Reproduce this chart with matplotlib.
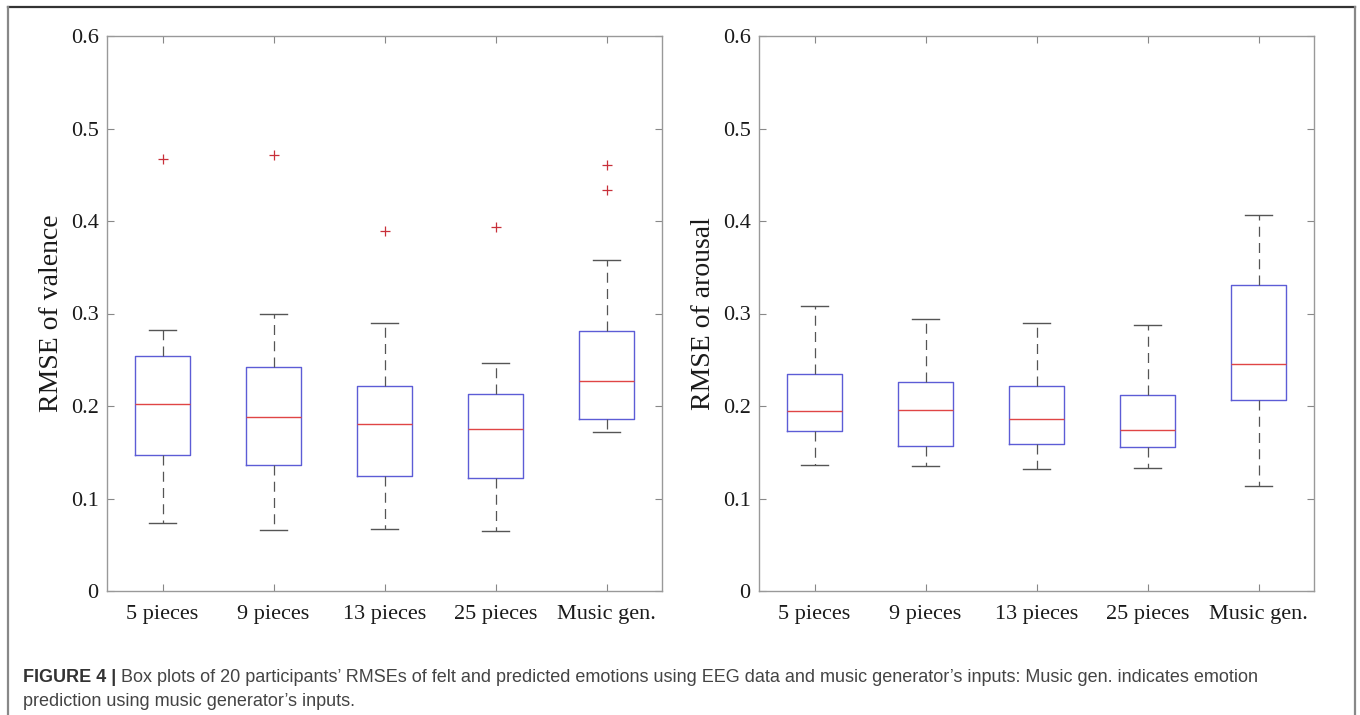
import matplotlib.pyplot as plt
from matplotlib.lines import Line2D

categories = ["5 pieces", "9 pieces", "13 pieces", "25 pieces", "Music gen."]

# valence (left panel)
val_whislo = [0.074, 0.066, 0.067, 0.065, 0.172]
val_q1 = [0.147, 0.136, 0.124, 0.122, 0.186]
val_med = [0.202, 0.188, 0.181, 0.175, 0.227]
val_q3 = [0.254, 0.242, 0.222, 0.213, 0.281]
val_whishi = [0.282, 0.300, 0.290, 0.246, 0.358]
val_fliers = [[0.467], [0.471], [0.389], [0.393], [0.461, 0.434]]

# arousal (right panel)
aro_whislo = [0.136, 0.135, 0.132, 0.133, 0.113]
aro_q1 = [0.173, 0.157, 0.159, 0.156, 0.206]
aro_med = [0.195, 0.196, 0.186, 0.174, 0.245]
aro_q3 = [0.235, 0.226, 0.222, 0.212, 0.331]
aro_whishi = [0.308, 0.294, 0.290, 0.288, 0.406]
aro_fliers = [[], [], [], [], []]

yticks = [0, 0.1, 0.2, 0.3, 0.4, 0.5, 0.6]
ytick_labels = ["0", "0.1", "0.2", "0.3", "0.4", "0.5", "0.6"]

caption_bold = "FIGURE 4 |"
caption_rest = (" Box plots of 20 participants\u2019 RMSEs of felt and predicted emotions using EEG data "
                "and music generator\u2019s inputs: Music gen. indicates emotion")
caption_line2 = "prediction using music generator\u2019s inputs."

serif = ["Liberation Serif", "DejaVu Serif"]
sans = ["Liberation Sans", "DejaVu Sans"]


def make_stats(lo, q1, med, q3, hi, fl):
    stats = []
    for i in range(len(med)):
        stats.append({"whislo": lo[i], "q1": q1[i], "med": med[i], "q3": q3[i],
                      "whishi": hi[i], "fliers": fl[i]})
    return stats


def draw_panel(ax, stats, ylabel):
    ax.bxp(stats, positions=range(1, len(stats) + 1), widths=0.5, capwidths=0.25,
           boxprops=dict(color="#5c5cd6", linewidth=1.0),
           medianprops=dict(color="#e04545", linewidth=1.0),
           whiskerprops=dict(color="#555555", linewidth=0.9, linestyle=(0, (8, 5))),
           capprops=dict(color="#555555", linewidth=1.0),
           flierprops=dict(marker="+", markeredgecolor="#c8303a", markersize=7,
                           markeredgewidth=0.9, linestyle="none"))
    ax.set_xlim(0.5, len(stats) + 0.5)
    ax.set_ylim(0, 0.6)
    ax.set_yticks(yticks)
    ax.set_yticklabels(ytick_labels, fontfamily=serif, fontsize=16, color="#1a1a1a")
    ax.set_xticks(range(1, len(stats) + 1))
    ax.set_xticklabels(categories, fontfamily=serif, fontsize=16, color="#1a1a1a")
    ax.tick_params(direction="in", length=5, width=0.8, color="#888888",
                   top=True, right=True)
    ax.tick_params(axis="x", pad=10)
    ax.tick_params(axis="y", pad=6)
    for s in ax.spines.values():
        s.set_color("#999999")
        s.set_linewidth(1.0)
    ax.set_ylabel(ylabel, fontfamily=serif, fontsize=20, color="#1a1a1a", labelpad=5)


fig = plt.figure(figsize=(13.6, 7.15), dpi=100)
W, H = 1360, 715

ax1 = fig.add_axes([107 / W, 1 - 591 / H, 555 / W, 555 / H])
ax2 = fig.add_axes([759 / W, 1 - 591 / H, 555 / W, 555 / H])

draw_panel(ax1, make_stats(val_whislo, val_q1, val_med, val_q3, val_whishi, val_fliers),
           "RMSE of valence")
draw_panel(ax2, make_stats(aro_whislo, aro_q1, aro_med, aro_q3, aro_whishi, aro_fliers),
           "RMSE of arousal")

# outer frame of the figure panel
fig.add_artist(Line2D([8 / W, 1355 / W], [1 - 7 / H, 1 - 7 / H], color="#333333", lw=1.6))
fig.add_artist(Line2D([8 / W, 8 / W], [0, 1 - 7 / H], color="#888888", lw=1.6))
fig.add_artist(Line2D([1355 / W, 1355 / W], [0, 1 - 7 / H], color="#888888", lw=1.6))

# caption
fs_cap = 13
t = fig.text(23 / W, 1 - 677 / H, caption_bold, fontfamily=sans, fontsize=fs_cap,
             fontweight="bold", color="#333333", va="center")
bb = t.get_window_extent(renderer=fig.canvas.get_renderer())
fig.text(bb.x1 / W, 1 - 677 / H, caption_rest, fontfamily=sans, fontsize=fs_cap,
         color="#444444", va="center")
fig.text(23 / W, 1 - 701 / H, caption_line2, fontfamily=sans, fontsize=fs_cap,
         color="#444444", va="center")

fig.savefig("out.png", dpi=100)
